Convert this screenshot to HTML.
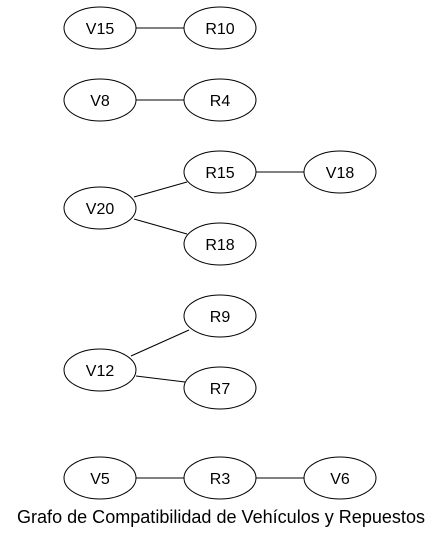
<!DOCTYPE html>
<html><head><meta charset="utf-8"><style>
html,body{margin:0;padding:0;background:#fff;}
svg{display:block;}
text{font-family:"Liberation Sans",sans-serif;font-size:16px;fill:#000;}
</style></head><body>
<svg width="441" height="539" viewBox="0 0 441 539" xmlns="http://www.w3.org/2000/svg">
<g stroke="#000" stroke-width="1" fill="none">
<line x1="136" y1="28" x2="184" y2="28"/>
<line x1="136" y1="100" x2="184" y2="100"/>
<line x1="256" y1="172" x2="304" y2="172"/>
<line x1="134" y1="197" x2="187" y2="182"/>
<line x1="134" y1="219" x2="187" y2="234"/>
<line x1="131" y1="356" x2="189" y2="330"/>
<line x1="136" y1="376" x2="185" y2="382"/>
<line x1="136" y1="478" x2="184" y2="478"/>
<line x1="256" y1="478" x2="304" y2="478"/>
<ellipse cx="100" cy="28" rx="36" ry="21"/>
<ellipse cx="220" cy="28" rx="36" ry="21"/>
<ellipse cx="100" cy="100" rx="36" ry="21"/>
<ellipse cx="220" cy="100" rx="36" ry="21"/>
<ellipse cx="220" cy="172" rx="36" ry="21"/>
<ellipse cx="340" cy="172" rx="36" ry="21"/>
<ellipse cx="100" cy="208" rx="36" ry="21"/>
<ellipse cx="220" cy="244" rx="36" ry="21"/>
<ellipse cx="220" cy="316" rx="36" ry="21"/>
<ellipse cx="100" cy="370" rx="36" ry="21"/>
<ellipse cx="220" cy="388" rx="36" ry="21"/>
<ellipse cx="100" cy="478" rx="36" ry="21"/>
<ellipse cx="220" cy="478" rx="36" ry="21"/>
<ellipse cx="340" cy="478" rx="36" ry="21"/>
</g>
<g text-anchor="middle">
<text x="100" y="34">V15</text>
<text x="220" y="34">R10</text>
<text x="100" y="106">V8</text>
<text x="220" y="106">R4</text>
<text x="220" y="178">R15</text>
<text x="340" y="178">V18</text>
<text x="100" y="214">V20</text>
<text x="220" y="250">R18</text>
<text x="220" y="322">R9</text>
<text x="100" y="376">V12</text>
<text x="220" y="394">R7</text>
<text x="100" y="484">V5</text>
<text x="220" y="484">R3</text>
<text x="340" y="484">V6</text>
</g>
<text x="17" y="523" style="font-size:18px" textLength="408" lengthAdjust="spacingAndGlyphs">Grafo de Compatibilidad de Vehículos y Repuestos</text>
</svg>
</body></html>
